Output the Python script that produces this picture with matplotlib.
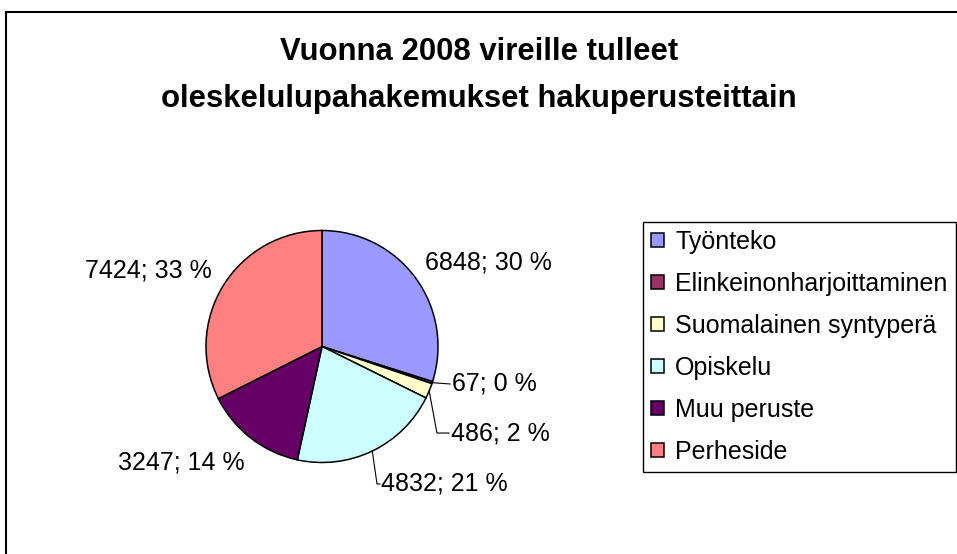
import numpy as np
import matplotlib
matplotlib.use("Agg")
import matplotlib.pyplot as plt
from matplotlib.patches import Rectangle

categories = ["Työnteko", "Elinkeinonharjoittaminen", "Suomalainen syntyperä",
              "Opiskelu", "Muu peruste", "Perheside"]
values = [6848, 67, 486, 4832, 3247, 7424]
percents = [30, 0, 2, 21, 14, 33]
colors = ["#9999FF", "#993366", "#FFFFCC", "#CCFFFF", "#660066", "#FF8080"]
title = "Vuonna 2008 vireille tulleet\noleskelulupahakemukset hakuperusteittain"

plt.rcParams['font.family'] = ['Liberation Sans', 'DejaVu Sans']

W, H = 957, 554
fig = plt.figure(figsize=(W / 100, H / 100), dpi=100)
fig.patch.set_facecolor("white")

R = 116.0
cx, cy = 322.0, 346.5
ax = fig.add_axes([0, 0, 1, 1])
wedges, _ = ax.pie(values, colors=colors, startangle=90, counterclock=False,
                   wedgeprops=dict(edgecolor="black", linewidth=1.1))
ax.set_aspect("auto")
ax.set_xlim(-cx / R, (W - cx) / R)
ax.set_ylim(-(H - cy) / R, cy / R)
ax.axis("off")

labels = [f"{v}; {p} %" for v, p in zip(values, percents)]
# label anchor positions (pie radius units) and alignment
lab_pos = [(0.888, 0.728, "left"), (1.121, -0.323, "left"), (1.112, -0.746, "left"),
           (0.509, -1.185, "left"), (-0.664, -1.004, "right"), (-0.948, 0.659, "right")]
for lab, (x, y, ha) in zip(labels, lab_pos):
    ax.text(x, y, lab, ha=ha, va="center", fontsize=18, color="black")

# leader lines for small / offset labels
total = sum(values)
angles = []
start = 90.0
for v in values:
    span = v / total * 360.0
    angles.append(start - span / 2)
    start -= span
leaders = {1: [(1.103, -0.323)], 2: [(0.991, -0.746), (1.095, -0.746)],
           3: [(0.474, -1.185), (0.500, -1.185)]}
for i, pts in leaders.items():
    a = np.deg2rad(angles[i])
    xs = [np.cos(a)] + [p[0] for p in pts]
    ys = [np.sin(a)] + [p[1] for p in pts]
    ax.plot(xs, ys, color="black", linewidth=0.8)

fig.text(479 / W, 1 - 75.5 / H, title, ha="center", va="center", fontsize=22.4,
         fontweight="bold", linespacing=1.7)

leg = fig.legend(wedges, categories, loc="upper left",
                 bbox_to_anchor=(643 / W, 1 - 222 / H), borderaxespad=0,
                 fontsize=18, frameon=True, fancybox=False, edgecolor="black",
                 framealpha=1, borderpad=0.33, labelspacing=0.72,
                 handlelength=0.5, handleheight=0.5, handletextpad=0.45)
leg.get_frame().set_linewidth(1.0)

border = Rectangle((6 / W, -0.1), 1.2, 1.1 - 12 / H + 0.0, transform=fig.transFigure,
                   fill=False, edgecolor="black", linewidth=1.5)
fig.patches.append(border)

fig.savefig("out.png", dpi=100)
